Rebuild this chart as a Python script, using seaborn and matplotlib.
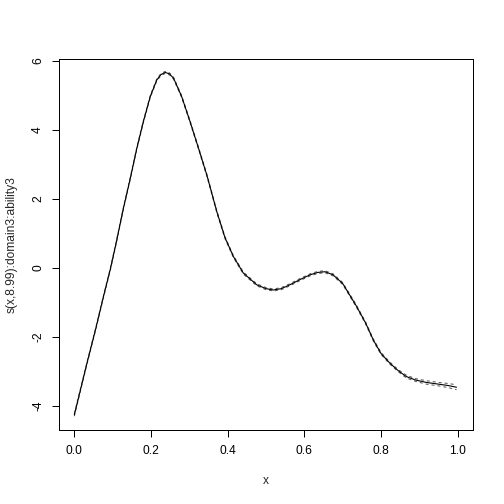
import matplotlib
matplotlib.use("Agg")

import matplotlib.pyplot as plt
import pandas as pd
import seaborn as sns

# smooth term (mgcv-style plot)
x_vals = [0.00, 0.033, 0.055, 0.076, 0.094, 0.109, 0.128, 0.146, 0.163, 0.180,
          0.198, 0.215, 0.226, 0.237, 0.248, 0.259, 0.280, 0.302, 0.324, 0.346,
          0.372, 0.393, 0.415, 0.441, 0.476, 0.50, 0.519, 0.54, 0.562, 0.59,
          0.615, 0.635, 0.654, 0.675, 0.70, 0.736, 0.76, 0.78, 0.80, 0.823,
          0.845, 0.866, 0.89, 0.918, 0.95, 0.975, 0.997]
fit_vals = [-4.26, -2.76, -1.80, -0.83, -0.03, 0.72, 1.73, 2.60, 3.47, 4.24,
            4.97, 5.45, 5.61, 5.67, 5.63, 5.50, 4.97, 4.24, 3.47, 2.68,
            1.62, 0.88, 0.33, -0.15, -0.49, -0.60, -0.64, -0.60, -0.49, -0.33,
            -0.20, -0.13, -0.11, -0.20, -0.45, -1.11, -1.60, -2.09, -2.48, -2.76,
            -2.98, -3.15, -3.25, -3.32, -3.37, -3.41, -3.46]
se_vals = [0.04, 0.03, 0.03, 0.03, 0.03, 0.03, 0.03, 0.03, 0.03, 0.03,
           0.03, 0.03, 0.03, 0.03, 0.03, 0.03, 0.03, 0.03, 0.03, 0.03,
           0.03, 0.03, 0.03, 0.03, 0.03, 0.03, 0.03, 0.03, 0.03, 0.03,
           0.03, 0.03, 0.03, 0.03, 0.03, 0.03, 0.03, 0.03, 0.03, 0.03,
           0.03, 0.04, 0.04, 0.05, 0.05, 0.06, 0.07]

df = pd.DataFrame({"x": x_vals, "fit": fit_vals, "se": se_vals})
df["upper"] = df["fit"] + df["se"]
df["lower"] = df["fit"] - df["se"]

sns.set_style("white")
plt.rcParams["font.family"] = ["Liberation Sans", "DejaVu Sans"]

fig = plt.figure(figsize=(7, 7), dpi=72)
ax = fig.add_axes([59 / 504, 1 - 430 / 504, 414 / 504, 371 / 504])

sns.lineplot(data=df, x="x", y="upper", ax=ax, color="#555555", lw=1, linestyle=(0, (3, 3)))
sns.lineplot(data=df, x="x", y="lower", ax=ax, color="#555555", lw=1, linestyle=(0, (3, 3)))
sns.lineplot(data=df, x="x", y="fit", ax=ax, color="black", lw=1.1)

ax.set_xlim(-0.04, 1.04)
ax.set_ylim(-4.70, 6.06)
ax.set_xticks([0.0, 0.2, 0.4, 0.6, 0.8, 1.0])
ax.set_xticklabels(["0.0", "0.2", "0.4", "0.6", "0.8", "1.0"])
ax.set_yticks([-4, -2, 0, 2, 4, 6])
ax.set_yticklabels(["-4", "-2", "0", "2", "4", "6"], rotation=90, va="center")

for s in ax.spines.values():
    s.set_color("black")
    s.set_linewidth(1)
ax.tick_params(axis="both", direction="out", length=7, width=1, color="black",
               labelsize=12, labelcolor="black", left=True, bottom=True)
ax.tick_params(axis="x", pad=8)
ax.tick_params(axis="y", pad=8)

ax.set_xlabel("x", fontsize=12, labelpad=18)
ax.set_ylabel("s(x,8.99):domain3:ability3", fontsize=12, labelpad=14)

plt.savefig("out.png", dpi=72)
plt.close()
